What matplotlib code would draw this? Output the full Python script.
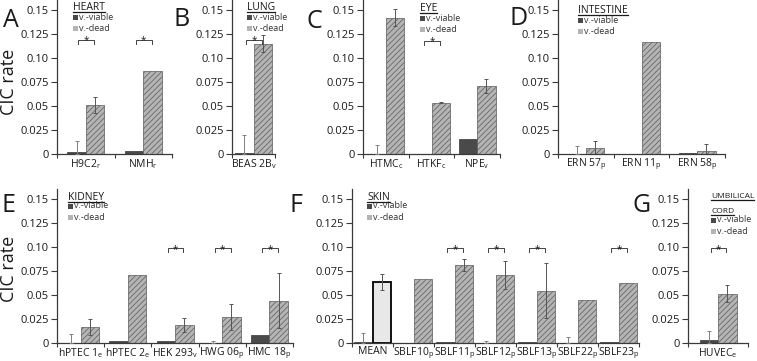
import numpy as np
import matplotlib
matplotlib.use('Agg')
import matplotlib.pyplot as plt
from matplotlib.patches import Rectangle
from matplotlib.lines import Line2D

plt.rcParams['font.family'] = ['Open Sans', 'DejaVu Sans']
plt.rcParams['mathtext.default'] = 'regular'
plt.rcParams['hatch.linewidth'] = 0.5
plt.rcParams['hatch.color'] = '#707070'

W, H = 757, 361

# ---- data ----
heart_cells = ['H9C2$_r$', 'NMH$_r$']
heart_viable = [0.0024, 0.0035]
heart_viable_err = [0.011, 0]
heart_dead = [0.051, 0.0865]
heart_dead_err = [0.0085, 0]
heart_sig = [1, 1]

lung_cells = ['BEAS 2B$_v$']
lung_viable = [0.001]
lung_viable_err = [0.019]
lung_dead = [0.115]
lung_dead_err = [0.0085]
lung_sig = [1]

eye_cells = ['HTMC$_c$', 'HTKF$_c$', 'NPE$_v$']
eye_viable = [0, 0, 0.0158]
eye_viable_err = [0.009, 0, 0]
eye_dead = [0.142, 0.0536, 0.071]
eye_dead_err = [0.0088, 0.0007, 0.0075]
eye_sig = [0, 1, 0]

intestine_cells = ['ERN 57$_p$', 'ERN 11$_p$', 'ERN 58$_p$']
intestine_viable = [0, 0, 0.0015]
intestine_viable_err = [0.0087, 0, 0]
intestine_dead = [0.0059, 0.1167, 0.0035]
intestine_dead_err = [0.008, 0, 0.0069]
intestine_sig = [0, 0, 0]

kidney_cells = ['hPTEC 1$_e$', 'hPTEC 2$_e$', 'HEK 293$_v$', 'HWG 06$_p$', 'HMC 18$_p$']
kidney_viable = [0, 0.002, 0.002, 0, 0.0085]
kidney_viable_err = [0.0095, 0, 0, 0.002, 0]
kidney_dead = [0.017, 0.071, 0.019, 0.027, 0.044]
kidney_dead_err = [0.0085, 0, 0.0075, 0.0135, 0.0285]
kidney_sig = [0, 0, 1, 1, 1]

skin_cells = ['MEAN', 'SBLF10$_p$', 'SBLF11$_p$', 'SBLF12$_p$', 'SBLF13$_p$', 'SBLF22$_p$', 'SBLF23$_p$']
skin_viable = [0.001, 0, 0.001, 0, 0.001, 0, 0.001]
skin_viable_err = [0.0095, 0, 0, 0.002, 0, 0.0065, 0]
skin_dead = [0.0635, 0.0665, 0.0812, 0.071, 0.0545, 0.045, 0.063]
skin_dead_err = [0.0085, 0, 0.006, 0.0145, 0.0285, 0, 0]
skin_sig = [0, 0, 1, 1, 1, 0, 1]

cord_cells = ['HUVEC$_e$']
cord_viable = [0.0035]
cord_viable_err = [0.0085]
cord_dead = [0.0515]
cord_dead_err = [0.0085]
cord_sig = [1]

yticks = [0, 0.025, 0.05, 0.075, 0.10, 0.125, 0.15]
ytick_labels = ['0', '0.025', '0.05', '0.075', '0.10', '0.125', '0.15']
legend_labels = ['v.-viable', 'v.-dead']

# letter, title lines, data..., x0/x1 px, axis-zero px, bracket height, letter pos, legend pos
panels = [
    ('A', ['HEART'], heart_cells, heart_viable, heart_viable_err, heart_dead, heart_dead_err, heart_sig,
     57, 172, 154, 0.119, (3, 27), (73, [10], 20, 31, 7.5)),
    ('B', ['LUNG'], lung_cells, lung_viable, lung_viable_err, lung_dead, lung_dead_err, lung_sig,
     232, 275, 154, 0.119, (174, 26), (247, [10], 20, 31, 7.5)),
    ('C', ['EYE'], eye_cells, eye_viable, eye_viable_err, eye_dead, eye_dead_err, eye_sig,
     363, 500, 154, 0.118, (306, 28), (420, [11], 21, 32, 7.5)),
    ('D', ['INTESTINE'], intestine_cells, intestine_viable, intestine_viable_err, intestine_dead,
     intestine_dead_err, intestine_sig, 558, 725, 154, 0.118, (510, 25), (578, [13], 23, 34, 7.5)),
    ('E', ['KIDNEY'], kidney_cells, kidney_viable, kidney_viable_err, kidney_dead, kidney_dead_err, kidney_sig,
     57, 293, 343, 0.099, (1, 212), (68, [200], 208.5, 220, 7.5)),
    ('F', ['SKIN'], skin_cells, skin_viable, skin_viable_err, skin_dead, skin_dead_err, skin_sig,
     352, 639, 343, 0.099, (290, 212), (367, [200], 208.5, 220, 7.5)),
    ('G', ['UMBILICAL', 'CORD'], cord_cells, cord_viable, cord_viable_err, cord_dead, cord_dead_err, cord_sig,
     688, 748, 343, 0.099, (632, 212), (711, [197.5, 212.5], 222.5, 233.5, 6)),
]

viable_col = '#4a4a4a'
dead_col = '#b4b4b4'
txt_col = '#1a1a1a'
ax_col = '#3a3a3a'
ymax = 0.16
px_per_unit = 144 / 0.15

fig = plt.figure(figsize=(W / 100, H / 100), dpi=100, facecolor='white')
renderer = fig.canvas.get_renderer()


def fx(px):
    return px / W


def fy(py):
    return 1 - py / H


for (letter, title, cells, viable, verr, dead, derr, sig, x0, x1, zero_px, brk_h,
     letter_pos, leg) in panels:
    n = len(cells)
    h_px = ymax * px_per_unit
    ax = fig.add_axes([fx(x0), fy(zero_px), (x1 - x0) / W, h_px / H])
    cat_px = (x1 - x0) / n
    bw = 18.5 / cat_px
    xs = np.arange(n)

    ax.bar(xs - bw / 2, viable, bw, color=viable_col, edgecolor='#333333', linewidth=0.5, zorder=2)
    for i in range(n):
        if letter == 'F' and i == 0:
            ax.bar(xs[i] + bw / 2, dead[i], bw, color='#e8e8e8', edgecolor='black', linewidth=1.3, zorder=2)
        else:
            ax.bar(xs[i] + bw / 2, dead[i], bw, color=dead_col, edgecolor='#5a5a5a', linewidth=0.5,
                   hatch='//////', zorder=2)

    for i in range(n):
        if verr[i] > 0:
            ax.errorbar(xs[i] - bw / 2, viable[i], yerr=[[min(viable[i], verr[i])], [verr[i]]],
                        fmt='none', ecolor='#808080', elinewidth=0.7, capsize=1.5, capthick=0.7, zorder=3)
        if derr[i] > 0:
            ax.errorbar(xs[i] + bw / 2, dead[i], yerr=[[derr[i]], [derr[i]]],
                        fmt='none', ecolor='#555555', elinewidth=0.7, capsize=1.5, capthick=0.7, zorder=3)
        if sig[i]:
            xa, xb = xs[i] - bw * 0.4, xs[i] + bw * 0.45
            ax.plot([xa, xa, xb, xb], [brk_h - 0.0045, brk_h, brk_h, brk_h - 0.0045],
                    color='#444444', lw=0.7, zorder=3)
            ax.text((xa + xb) / 2, brk_h - 0.004, '*', ha='center', va='baseline', fontsize=7, color=txt_col)

    ax.set_xlim(-0.5, n - 0.5)
    ax.set_ylim(0, ymax)
    ax.set_yticks(yticks)
    ax.set_yticklabels(ytick_labels)
    ax.set_xticks(np.arange(n + 1) - 0.5)
    ax.set_xticklabels([])
    ax.set_xticks(xs, minor=True)
    ax.set_xticklabels(cells, minor=True)
    ax.tick_params(axis='x', which='major', direction='out', length=3, width=0.8, color=ax_col)
    ax.tick_params(axis='x', which='minor', length=0, pad=2, labelsize=7.5, labelcolor=txt_col)
    ax.tick_params(axis='y', direction='out', length=4, width=0.8, color=ax_col, pad=2,
                   labelsize=8, labelcolor=txt_col)
    for s in ['top', 'right']:
        ax.spines[s].set_visible(False)
    for s in ['left', 'bottom']:
        ax.spines[s].set_color(ax_col)
        ax.spines[s].set_linewidth(0.9)
    ax.patch.set_alpha(0)

    # panel letter
    fig.text(fx(letter_pos[0]), fy(letter_pos[1]), letter, fontsize=18, va='baseline', ha='left',
             color=txt_col)

    # legend with underlined title
    lx, title_bl, row1, row2, tsize = leg
    for line, bl in zip(title, title_bl):
        t = fig.text(fx(lx), fy(bl), line, fontsize=tsize, va='baseline', ha='left', color=txt_col)
        bb = t.get_window_extent(renderer)
        fig.add_artist(Line2D([bb.x0 / W, bb.x1 / W], [fy(bl + 2), fy(bl + 2)], color=txt_col, lw=0.9,
                              transform=fig.transFigure))
    for (row, lab, col, hat) in [(row1, legend_labels[0], viable_col, None),
                                 (row2, legend_labels[1], dead_col, '//////')]:
        fig.add_artist(Rectangle((fx(lx), fy(row)), 5 / W, 5 / H, transform=fig.transFigure,
                                 facecolor=col, edgecolor='none', hatch=hat))
        fig.text(fx(lx + 6), fy(row), lab, fontsize=6.5, va='baseline', ha='left', color='#333333')

for yc in [82, 269]:
    fig.text(fx(14), fy(yc), 'CIC rate', rotation=90, rotation_mode='anchor', fontsize=13,
             ha='center', va='baseline', color=txt_col)

fig.savefig('out.png', dpi=100, facecolor='white')
